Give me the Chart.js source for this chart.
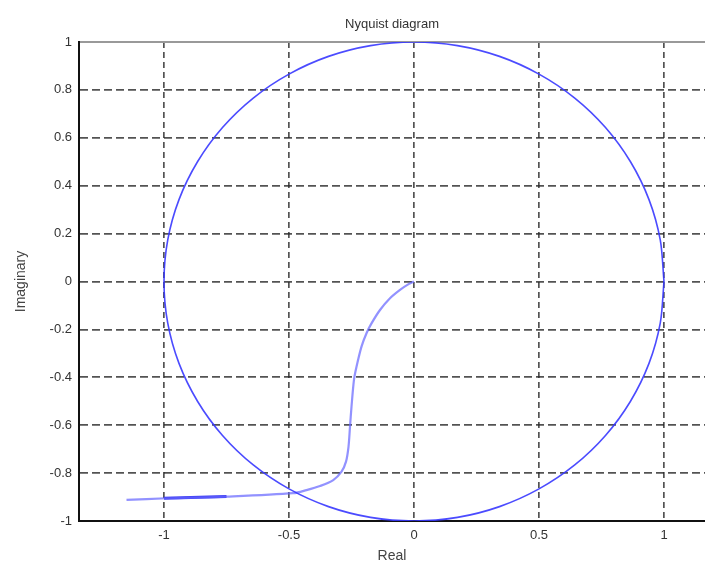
<!DOCTYPE html>
<html>
<head>
<meta charset="utf-8">
<script src="https://cdn.jsdelivr.net/npm/chart.js@4"></script>
<style>
  html, body { margin: 0; padding: 0; background: #fff; overflow: hidden; }
  #wrap { width: 705px; height: 565px; position: relative; }
</style>
</head>
<body>
<div id="wrap"><canvas id="grafico"></canvas></div>
<script>
const circuloRe = [1, 0.985, 0.94, 0.866, 0.766, 0.643, 0.5, 0.342, 0.174, 0, -0.174, -0.342, -0.5, -0.643, -0.766, -0.866, -0.94, -0.985, -1,
  -0.985, -0.94, -0.866, -0.766, -0.643, -0.5, -0.342, -0.174, 0, 0.174, 0.342, 0.5, 0.643, 0.766, 0.866, 0.94, 0.985, 1];
const circuloIm = [0, 0.174, 0.342, 0.5, 0.643, 0.766, 0.866, 0.94, 0.985, 1, 0.985, 0.94, 0.866, 0.766, 0.643, 0.5, 0.342, 0.174, 0,
  -0.174, -0.342, -0.5, -0.643, -0.766, -0.866, -0.94, -0.985, -1, -0.985, -0.94, -0.866, -0.766, -0.643, -0.5, -0.342, -0.174, 0];

const curvaRe = [0, -0.02, -0.056, -0.096, -0.136, -0.17, -0.19, -0.21, -0.23, -0.24, -0.25, -0.256, -0.262, -0.272, -0.29, -0.323, -0.376, -0.43, -0.483, -0.75, -0.99, -1.15];
const curvaIm = [0, -0.01, -0.035, -0.07, -0.119, -0.175, -0.216, -0.272, -0.356, -0.41, -0.523, -0.606, -0.69, -0.752, -0.794, -0.829, -0.854, -0.871, -0.884, -0.898, -0.905, -0.912];

// trecho mais escuro da cauda
const caudaRe = [-1, -0.75];
const caudaIm = [-0.905, -0.898];

const xTicks = [-1, -0.5, 0, 0.5, 1];
const yTicks = [-1, -0.8, -0.6, -0.4, -0.2, 0, 0.2, 0.4, 0.6, 0.8, 1];

function pontos(re, im) {
  return re.map((v, i) => ({ x: v, y: im[i] }));
}

const familia = 'Liberation Sans, Arial, sans-serif';
const fonteTicks = { family: familia, size: 13 };
const corLinhaGrade = 'rgba(40,40,40,0.8)';
const corGrade = (ctx) => {
  const v = ctx.tick ? ctx.tick.value : null;
  if (v === 1 || v === -1) return 'rgba(0,0,0,0)';
  return corLinhaGrade;
};

const ctx = document.getElementById('grafico').getContext('2d');
new Chart(ctx, {
  type: 'scatter',
  data: {
    datasets: [
      {
        data: pontos(circuloRe, circuloIm),
        showLine: true,
        borderColor: 'rgba(55,55,255,0.9)',
        borderWidth: 1.6,
        pointRadius: 0,
        tension: 0.3
      },
      {
        data: pontos(curvaRe, curvaIm),
        showLine: true,
        borderColor: 'rgba(100,100,255,0.7)',
        borderWidth: 2.2,
        pointRadius: 0,
        tension: 0.3
      },
      {
        data: pontos(caudaRe, caudaIm),
        showLine: true,
        borderColor: 'rgba(50,50,240,0.95)',
        borderWidth: 3,
        pointRadius: 0
      }
    ]
  },
  options: {
    responsive: true,
    maintainAspectRatio: false,
    animation: false,
    layout: { padding: 0 },
    plugins: {
      legend: { display: false },
      tooltip: { enabled: false },
      title: { display: false }
    },
    scales: {
      x: {
        type: 'linear',
        position: 'bottom',
        min: -1.34,
        max: 1.164,
        afterBuildTicks: (axis) => { axis.ticks = xTicks.map(v => ({ value: v })); },
        afterFit: (s) => { s.height = 44; },
        ticks: {
          font: fonteTicks,
          color: '#333',
          padding: 7,
          maxRotation: 0,
          callback: (v) => String(v)
        },
        grid: { color: corLinhaGrade, lineWidth: 1.7, drawTicks: false },
        border: { display: true, color: '#111', width: 2, dash: [6, 4] },
        title: {
          display: true,
          text: 'Real',
          font: { family: familia, size: 14 },
          color: '#444',
          padding: { top: 0, bottom: 0 }
        }
      },
      x2: {
        type: 'linear',
        position: 'top',
        min: -1.34,
        max: 1.164,
        afterFit: (s) => { s.height = 42; },
        ticks: { display: false },
        grid: { display: false, drawTicks: false },
        border: { display: true, color: '#999', width: 2 },
        title: {
          display: true,
          text: 'Nyquist diagram',
          font: { family: familia, size: 13 },
          color: '#333',
          padding: { top: 17, bottom: 0 }
        }
      },
      y: {
        type: 'linear',
        position: 'left',
        min: -1,
        max: 1,
        afterBuildTicks: (axis) => { axis.ticks = yTicks.map(v => ({ value: v })); },
        afterFit: (s) => { s.width = 79; },
        ticks: {
          font: fonteTicks,
          color: '#333',
          padding: 7,
          callback: (v) => String(v)
        },
        grid: { color: corGrade, lineWidth: 1.7, drawTicks: false },
        border: { display: true, color: '#111', width: 2, dash: [8, 4] },
        title: {
          display: true,
          text: 'Imaginary',
          font: { family: familia, size: 14 },
          color: '#444',
          padding: { top: 13, bottom: 0 }
        }
      }
    }
  }
});
</script>
</body>
</html>
